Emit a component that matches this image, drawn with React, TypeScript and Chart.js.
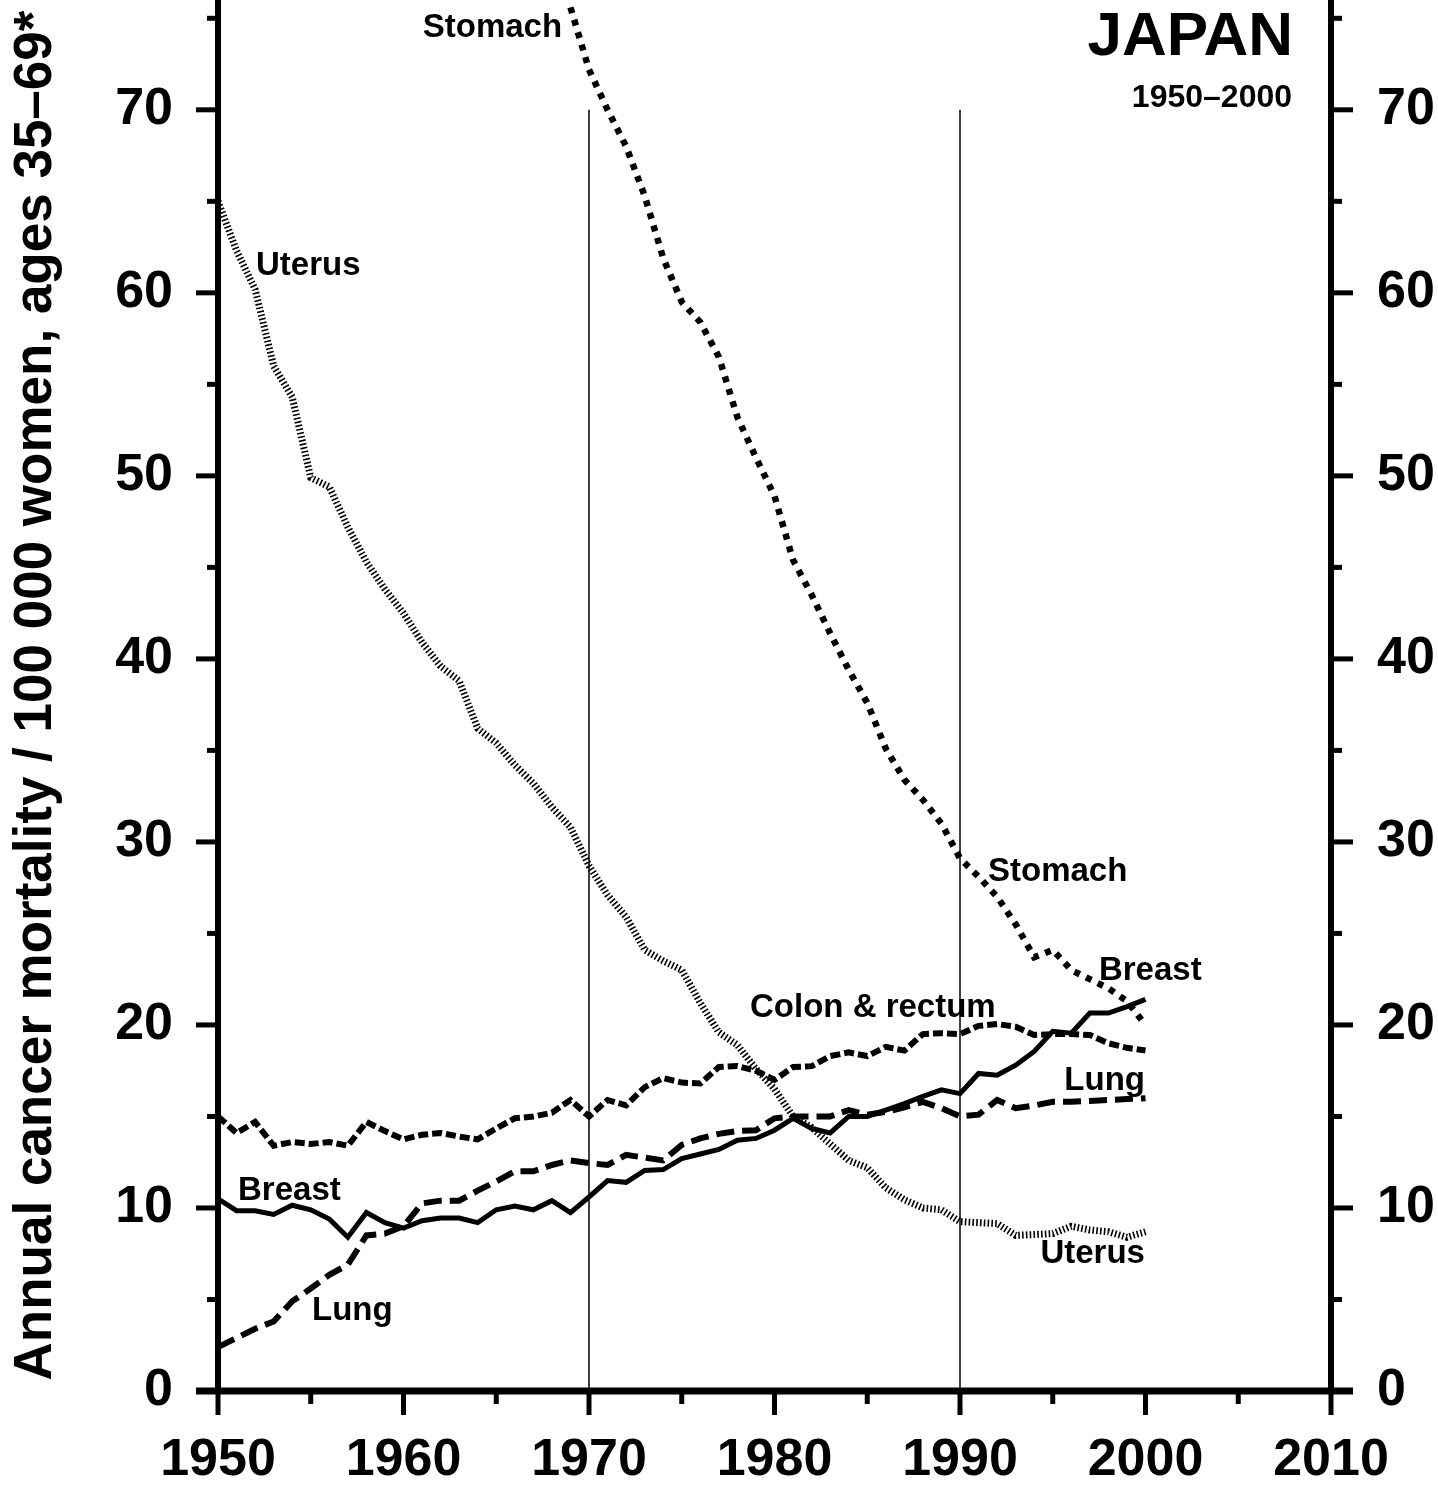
import React, { useEffect, useRef } from "react";
import { Chart, registerables } from "chart.js";

Chart.register(...registerables);

// ---- DATA ----
const years = [
  1950, 1951, 1952, 1953, 1954, 1955, 1956, 1957, 1958, 1959,
  1960, 1961, 1962, 1963, 1964, 1965, 1966, 1967, 1968, 1969,
  1970, 1971, 1972, 1973, 1974, 1975, 1976, 1977, 1978, 1979,
  1980, 1981, 1982, 1983, 1984, 1985, 1986, 1987, 1988, 1989,
  1990, 1991, 1992, 1993, 1994, 1995, 1996, 1997, 1998, 1999, 2000,
];

const stomach: (number | null)[] = [
  null, null, null, null, null, null, null, null, null, null,
  null, null, null, null, null, null, null, null, null, 75.6,
  72.2, 70.0, 68.0, 65.3, 61.9, 59.5, 58.4, 56.5, 53.2, 51.0,
  48.9, 45.4, 43.5, 41.4, 39.4, 37.6, 35.1, 33.4, 32.3, 31.0,
  29.1, 28.1, 27.0, 25.5, 23.7, 24.1, 23.0, 22.5, 22.0, 21.3, 20.0,
];

const uterus = [
  65.0, 62.3, 60.2, 56.0, 54.3, 49.9, 49.4, 47.2, 45.3, 43.8,
  42.5, 40.9, 39.6, 38.8, 36.2, 35.4, 34.2, 33.2, 31.9, 30.8,
  28.7, 27.1, 25.9, 24.1, 23.5, 23.0, 21.2, 19.6, 18.9, 17.6,
  16.5, 15.0, 14.4, 13.5, 12.6, 12.2, 11.1, 10.45, 10.0, 9.9,
  9.25, 9.2, 9.15, 8.5, 8.55, 8.6, 9.0, 8.8, 8.7, 8.4, 8.7,
];

const colonRectum = [
  15.0, 14.1, 14.7, 13.4, 13.6, 13.5, 13.6, 13.4, 14.7, 14.2,
  13.75, 14.0, 14.1, 13.9, 13.75, 14.35, 14.9, 15.0, 15.2, 15.9,
  15.0, 15.9, 15.6, 16.6, 17.1, 16.85, 16.8, 17.7, 17.75, 17.5,
  17.0, 17.7, 17.75, 18.3, 18.5, 18.3, 18.8, 18.6, 19.5, 19.55,
  19.5, 19.95, 20.05, 19.9, 19.45, 19.5, 19.5, 19.45, 19.0, 18.75, 18.6,
];

const breast = [
  10.5, 9.85, 9.85, 9.65, 10.15, 9.9, 9.4, 8.4, 9.75, 9.2,
  8.9, 9.3, 9.45, 9.45, 9.2, 9.9, 10.1, 9.9, 10.4, 9.75,
  10.6, 11.5, 11.4, 12.05, 12.1, 12.7, 12.95, 13.2, 13.7, 13.8,
  14.25, 14.9, 14.35, 14.1, 15.0, 15.0, 15.35, 15.7, 16.1, 16.45,
  16.25, 17.35, 17.25, 17.8, 18.55, 19.65, 19.55, 20.65, 20.65, 21.0, 21.4,
];

const lung = [
  2.4, 2.9, 3.4, 3.8, 4.9, 5.6, 6.35, 6.9, 8.5, 8.6,
  9.0, 10.25, 10.4, 10.4, 10.95, 11.45, 12.0, 12.0, 12.35, 12.6,
  12.45, 12.35, 12.9, 12.75, 12.6, 13.45, 13.8, 14.05, 14.2, 14.25,
  14.9, 15.0, 15.0, 15.0, 15.35, 15.1, 15.25, 15.5, 15.8, 15.45,
  15.0, 15.1, 15.9, 15.45, 15.6, 15.8, 15.8, 15.85, 15.9, 15.95, 16.0,
];

const referenceYears = [1970, 1990];
const referenceRange = [0, 70];

const xMajorTicks = [1950, 1960, 1970, 1980, 1990, 2000, 2010];
const xMinorTicks = [1955, 1965, 1975, 1985, 1995, 2005];
const yMajorTicks = [0, 10, 20, 30, 40, 50, 60, 70];
const yMinorTicks = [5, 15, 25, 35, 45, 55, 65, 75];

const yTitle = "Annual cancer mortality / 100 000 women, ages 35\u201369*";

type Note = { text: string; x: number; y: number; align: CanvasTextAlign; size: number };
const notes: Note[] = [
  { text: "Stomach", x: 1968.55, y: 74.0, align: "right", size: 33 },
  { text: "Uterus", x: 1952.05, y: 61.0, align: "left", size: 33 },
  { text: "Breast", x: 1951.08, y: 10.44, align: "left", size: 33 },
  { text: "Lung", x: 1955.07, y: 3.88, align: "left", size: 33 },
  { text: "Colon & rectum", x: 1978.68, y: 20.44, align: "left", size: 33 },
  { text: "Stomach", x: 1991.51, y: 27.87, align: "left", size: 33 },
  { text: "Breast", x: 1997.49, y: 22.46, align: "left", size: 33 },
  { text: "Lung", x: 1999.97, y: 16.45, align: "right", size: 33 },
  { text: "Uterus", x: 1999.97, y: 6.99, align: "right", size: 33 },
  { text: "JAPAN", x: 2007.95, y: 73.0, align: "right", size: 62 },
  { text: "1950\u20132000", x: 2007.9, y: 70.16, align: "right", size: 32 },
];

const FONT = '"Liberation Sans", Arial, Helvetica, sans-serif';

const pairs = (vals: (number | null)[]) => years.map((yr, i) => ({ x: yr, y: vals[i] }));

const decorPlugin = {
  id: "decor",
  afterDatasetsDraw(chart: any) {
    const { ctx, chartArea } = chart;
    const { left, right, top, bottom } = chartArea;
    const xs = chart.scales.x;
    const ys = chart.scales.y;
    const line = (x1: number, y1: number, x2: number, y2: number) => {
      ctx.beginPath();
      ctx.moveTo(x1, y1);
      ctx.lineTo(x2, y2);
      ctx.stroke();
    };
    ctx.save();
    ctx.strokeStyle = "#000";
    ctx.lineCap = "butt";
    ctx.lineWidth = 6;
    line(left, top, left, bottom);
    line(right, top, right, bottom);
    ctx.lineWidth = 5;
    xMajorTicks.forEach((t) => {
      const px = xs.getPixelForValue(t);
      line(px, bottom, px, bottom + 24);
    });
    xMinorTicks.forEach((t) => {
      const px = xs.getPixelForValue(t);
      line(px, bottom, px, bottom + 13);
    });
    yMajorTicks.forEach((v) => {
      const py = ys.getPixelForValue(v);
      line(left - 22, py, left, py);
      line(right, py, right + 22, py);
    });
    yMinorTicks.forEach((v) => {
      const py = ys.getPixelForValue(v);
      line(left - 11, py, left, py);
      line(right, py, right + 11, py);
    });
    ctx.lineWidth = 7;
    line(left - 22, bottom, right + 22, bottom);

    ctx.fillStyle = "#000";
    ctx.textBaseline = "alphabetic";
    notes.forEach((n) => {
      ctx.font = `bold ${n.size}px ${FONT}`;
      ctx.textAlign = n.align;
      ctx.fillText(n.text, xs.getPixelForValue(n.x), ys.getPixelForValue(n.y));
    });
    ctx.restore();
  },
};

export default function App() {
  const ref = useRef<HTMLCanvasElement | null>(null);
  useEffect(() => {
    if (!ref.current) return;
    const tickFont = { family: FONT, size: 52, weight: "bold" as const };
    const chart = new Chart(ref.current, {
      type: "line",
      data: {
        datasets: [
          {
            label: "Uterus",
            data: pairs(uterus),
            borderColor: "#000",
            borderWidth: 7,
            borderDash: [1.6, 2.2],
            pointRadius: 0,
            tension: 0,
          },
          {
            label: "Stomach",
            data: pairs(stomach),
            borderColor: "#000",
            borderWidth: 6.5,
            borderDash: [6, 7],
            pointRadius: 0,
            tension: 0,
            spanGaps: false,
          },
          {
            label: "Colon & rectum",
            data: pairs(colonRectum),
            borderColor: "#000",
            borderWidth: 6,
            borderDash: [10, 4],
            pointRadius: 0,
            tension: 0,
          },
          {
            label: "Lung",
            data: pairs(lung),
            borderColor: "#000",
            borderWidth: 6,
            borderDash: [18, 8],
            pointRadius: 0,
            tension: 0,
          },
          {
            label: "Breast",
            data: pairs(breast),
            borderColor: "#000",
            borderWidth: 5,
            pointRadius: 0,
            tension: 0,
          },
          ...referenceYears.map((yr) => ({
            label: `ref${yr}`,
            data: referenceRange.map((v) => ({ x: yr, y: v })),
            borderColor: "#000",
            borderWidth: 1.5,
            pointRadius: 0,
          })),
        ],
      },
      options: {
        animation: false,
        responsive: false,
        devicePixelRatio: 1,
        layout: { padding: 0 },
        plugins: {
          legend: { display: false },
          tooltip: { enabled: false },
        },
        scales: {
          x: {
            type: "linear",
            position: "bottom",
            min: 1950,
            max: 2010,
            grid: { display: false, drawTicks: false },
            border: { display: false },
            ticks: {
              stepSize: 10,
              color: "#000",
              font: tickFont,
              padding: 38,
              maxRotation: 0,
              callback: (v: any) => String(v),
            },
            afterFit: (s: any) => {
              s.height = 97;
              s.paddingLeft = 0;
              s.paddingRight = 0;
            },
          },
          y: {
            type: "linear",
            position: "left",
            min: 0,
            max: 76,
            grid: { display: false, drawTicks: false },
            border: { display: false },
            ticks: {
              stepSize: 10,
              includeBounds: false,
              color: "#000",
              font: tickFont,
              padding: 45,
            },
            title: {
              display: true,
              text: yTitle,
              color: "#000",
              font: { family: FONT, size: 53, weight: "bold" },
              padding: { top: 5, bottom: 0 },
            },
            afterFit: (s: any) => {
              s.width = 218;
              s.paddingTop = 0;
              s.paddingBottom = 0;
            },
          },
          y2: {
            type: "linear",
            position: "right",
            min: 0,
            max: 76,
            grid: { display: false, drawTicks: false },
            border: { display: false },
            ticks: {
              stepSize: 10,
              includeBounds: false,
              color: "#000",
              font: tickFont,
              padding: 46,
            },
            afterFit: (s: any) => {
              s.width = 107;
              s.paddingTop = 0;
              s.paddingBottom = 0;
            },
          },
        },
      },
      plugins: [decorPlugin],
    } as any);
    return () => chart.destroy();
  }, []);

  return (
    <div style={{ position: "fixed", left: 0, top: 0, width: 1438, height: 1488, background: "#fff" }}>
      <canvas ref={ref} width={1438} height={1488} style={{ display: "block", width: 1438, height: 1488 }} />
    </div>
  );
}
